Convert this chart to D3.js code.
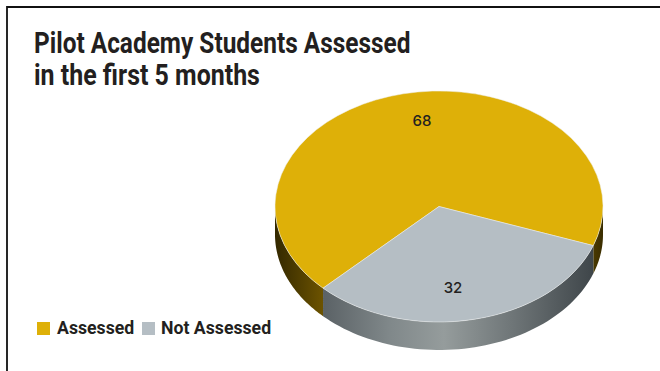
<!DOCTYPE html>
<html>
<head>
<meta charset="utf-8">
<script src="https://cdn.jsdelivr.net/npm/d3@7"></script>
<style>
html,body{margin:0;padding:0;background:#fff;}
svg{display:block;}
text{font-family:Roboto,sans-serif;fill:#231f20;}
</style>
</head>
<body>
<svg id="chart" width="660" height="371"></svg>
<script>
const categories = ["Assessed", "Not Assessed"];
const values = [68, 32];
const sliceColors = ["#deb008", "#b5bec4"];
const titleLines = ["Pilot Academy Students Assessed", "in the first 5 months"];
const titleStretch = [0.842, 0.86];

const svg = d3.select("#chart");
const cx = 439, cy = 206.5, rx = 164, ry = 115.5, depth = 28;

// Panel frame: top and left rules only
svg.append("path").attr("d", "M7,371V7H660").attr("fill", "none").attr("stroke", "#111").attr("stroke-width", 1.8);

const defs = svg.append("defs");
function hGradient(id, x1, x2, stops) {
  const g = defs.append("linearGradient").attr("id", id).attr("gradientUnits", "userSpaceOnUse")
    .attr("x1", x1).attr("x2", x2).attr("y1", 0).attr("y2", 0);
  stops.forEach(([o, c]) => g.append("stop").attr("offset", o).attr("stop-color", c));
}
hGradient("wallGold", cx - rx, cx + rx, [[0, "#332800"], [0.143, "#6b5200"], [0.95, "#5a4500"], [0.97, "#4a3900"], [1, "#3a2d00"]]);
hGradient("wallGrey", cx - 117, cx + 154, [[0, "#5a6165"], [0.25, "#80888a"], [0.45, "#959c9c"], [0.7, "#6f7678"], [1, "#3f464a"]]);

// Pie layout: the grey slice runs clockwise from lower right round to lower left
const pie = d3.pie().sort(null).startAngle(225 * Math.PI / 180).endAngle((225 + 360) * Math.PI / 180);
const arcs = pie(values);

const px = a => cx + rx * Math.sin(a);
const py = a => cy - ry * Math.cos(a);

// Outer wall between two pie angles, clipped to the front half of the ellipse
function wallPath(a0, a1) {
  const n = 60, pts = d3.range(n + 1).map(i => a0 + (a1 - a0) * i / n);
  const top = pts.map(a => [px(a), py(a)]);
  const bottom = pts.slice().reverse().map(a => [px(a), py(a) + depth]);
  return d3.line()(top.concat(bottom)) + "Z";
}
const tau = 2 * Math.PI, front0 = Math.PI / 2, front1 = 1.5 * Math.PI;
const ranges = [];
arcs.forEach((d, i) => {
  [0, tau, -tau].forEach(k => {
    const a0 = Math.max(d.startAngle + k, front0), a1 = Math.min(d.endAngle + k, front1);
    if (a1 > a0) ranges.push({ i, a0, a1 });
  });
});
svg.append("g").selectAll("path").data(ranges).join("path")
  .attr("d", d => wallPath(d.a0, d.a1))
  .attr("fill", d => d.i === 0 ? "url(#wallGold)" : "url(#wallGrey)");

// Top face
const arc = d3.arc().innerRadius(0).outerRadius(rx);
svg.append("g")
  .attr("transform", `translate(${cx},${cy}) scale(1,${ry / rx})`)
  .selectAll("path").data(arcs).join("path")
  .attr("d", arc)
  .attr("fill", (d, i) => sliceColors[i])
  .attr("stroke", "#eef0f0").attr("stroke-width", 0.6);

// Value labels
const labelPos = [[422, 120.5], [453, 288]];
svg.append("g").selectAll("text").data(values).join("text")
  .attr("x", (d, i) => labelPos[i][0]).attr("y", (d, i) => labelPos[i][1])
  .attr("dy", "0.36em").attr("text-anchor", "middle")
  .style("font-family", "Inter, Roboto, sans-serif")
  .attr("font-size", 15).attr("font-weight", 500)
  .text(d => d);

// Title, condensed horizontally
svg.append("g").selectAll("text").data(titleLines).join("text")
  .attr("transform", (d, i) => `translate(34,${53 + i * 32}) scale(${titleStretch[i]},1)`)
  .attr("font-size", 29).attr("font-weight", 700)
  .text(d => d);

// Legend
const legendX = [37, 142], legendTextX = [57, 161];
const legend = svg.append("g").selectAll("g").data(categories).join("g");
legend.append("rect").attr("x", (d, i) => legendX[i]).attr("y", 322).attr("width", 13).attr("height", 13)
  .attr("fill", (d, i) => sliceColors[i]);
legend.append("text").attr("x", (d, i) => legendTextX[i]).attr("y", 334)
  .attr("font-size", 17.7).attr("font-weight", 700)
  .text(d => d);
</script>
</body>
</html>
